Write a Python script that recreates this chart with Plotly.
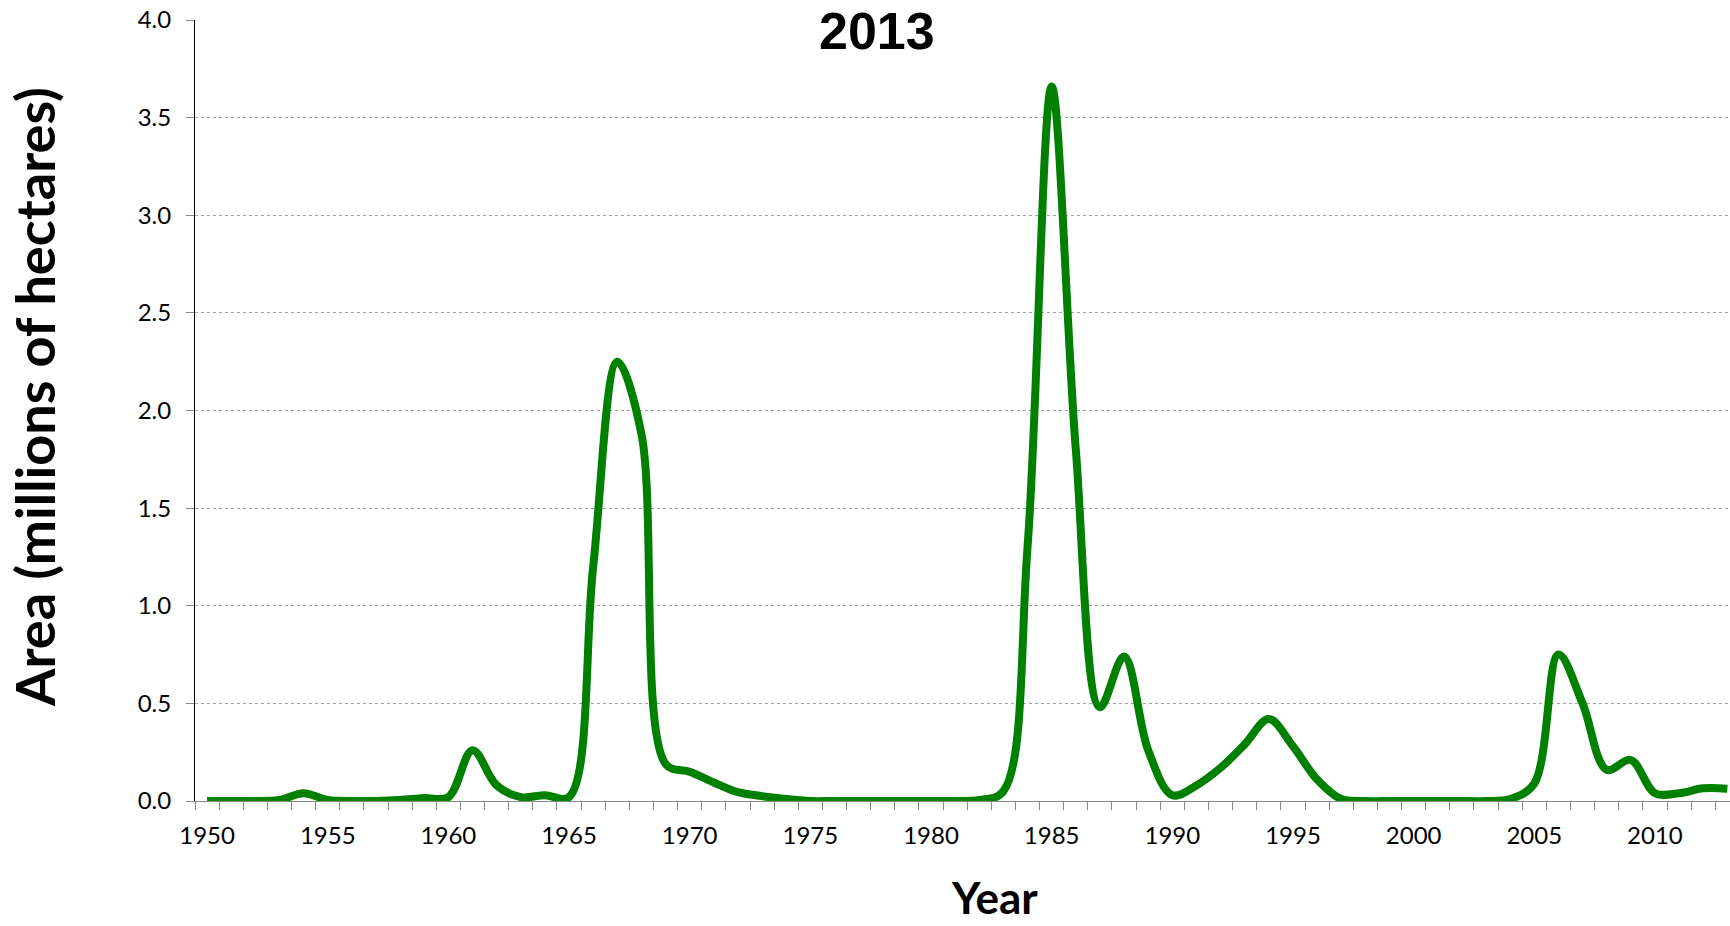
import plotly.graph_objects as go

years = list(range(1950, 2014))
area = [
    0.0, 0.0, 0.0, 0.005, 0.04, 0.005, 0.0, 0.0, 0.005, 0.015,   # 1950-1959
    0.02, 0.26, 0.08, 0.02, 0.03, 0.02, 1.2, 2.25, 1.88, 0.19,   # 1960-1969
    0.15, 0.095, 0.045, 0.025, 0.01, 0.0, 0.0, 0.0, 0.0, 0.0,    # 1970-1979
    0.0, 0.0, 0.005, 0.05, 1.3, 3.66, 1.8, 0.48, 0.74, 0.26,     # 1980-1989
    0.03, 0.08, 0.17, 0.29, 0.42, 0.28, 0.11, 0.01, 0.0, 0.0,    # 1990-1999
    0.0, 0.0, 0.0, 0.0, 0.01, 0.09, 0.75, 0.5, 0.16, 0.21,       # 2000-2009
    0.04, 0.04, 0.065, 0.063,                                    # 2010-2013
]
x_tick_vals = [1950, 1955, 1960, 1965, 1970, 1975, 1980, 1985, 1990, 1995, 2000, 2005, 2010]
y_tick_vals = [0.0, 0.5, 1.0, 1.5, 2.0, 2.5, 3.0, 3.5, 4.0]

title_text = "2013"
x_title = "Year"
y_title = "Area (millions of hectares)"

fig = go.Figure()
fig.add_trace(go.Scatter(
    x=years, y=area, mode="lines",
    line=dict(color="#008000", width=8, shape="spline", smoothing=1.0),
    cliponaxis=False, showlegend=False, hoverinfo="skip",
))

W, H = 1730, 926
L, R, T = 195, 0, 20
B = H - 801

fig.update_layout(
    width=W, height=H,
    margin=dict(l=L, r=R, t=T, b=B, pad=0),
    paper_bgcolor="white", plot_bgcolor="white",
    font=dict(family="Lato", color="black"),
    showlegend=False,
)

fig.update_xaxes(
    range=[1949.5, 2013.11],
    tickmode="array", tickvals=x_tick_vals,
    ticks="outside", ticklen=8, tickcolor="rgba(0,0,0,0)",
    tickfont=dict(family="Lato", size=24, color="black"),
    ticklabelstandoff=5,
    minor=dict(ticks="outside", tick0=1949.5, dtick=1, ticklen=8,
               tickcolor="#888888", tickwidth=1, showgrid=False),
    showline=True, linecolor="#888888", linewidth=1,
    showgrid=False, zeroline=False, fixedrange=True,
)
fig.update_yaxes(
    range=[0, 4.0],
    tickmode="array", tickvals=y_tick_vals, tickformat=".1f",
    ticks="outside", ticklen=8, tickcolor="#888888", tickwidth=1,
    tickfont=dict(family="Lato", size=24, color="black"),
    ticklabelstandoff=10, ticklabeloverflow="allow",
    showline=True, linecolor="black", linewidth=1,
    showgrid=True, gridcolor="#a0a0a0", gridwidth=1, griddash="dot",
    zeroline=False, fixedrange=True,
)

pw = W - L - R
ph = H - T - B

def px_to_paper(px, py):
    return (px - L) / pw, (H - B - py) / ph

tx, ty = px_to_paper(877, 31)
fig.add_annotation(x=tx, y=ty, xref="paper", yref="paper", text="<b>" + title_text + "</b>",
                   showarrow=False, xanchor="center", yanchor="middle",
                   font=dict(family="Liberation Sans", size=52, color="black"))
xx, xy = px_to_paper(994, 897)
fig.add_annotation(x=xx, y=xy, xref="paper", yref="paper", text="<b>" + x_title + "</b>",
                   showarrow=False, xanchor="center", yanchor="middle",
                   font=dict(family="Lato", size=44, color="black"))
yx, yy = px_to_paper(34, 397)
fig.add_annotation(x=yx, y=yy, xref="paper", yref="paper", text="<b>" + y_title + "</b>",
                   showarrow=False, xanchor="center", yanchor="middle", textangle=-90,
                   font=dict(family="Lato", size=54, color="black"))

fig.write_html("out.html",
               config={"displayModeBar": False, "staticPlot": True},
               post_script="document.body.style.margin='0';document.body.style.overflow='hidden';")
